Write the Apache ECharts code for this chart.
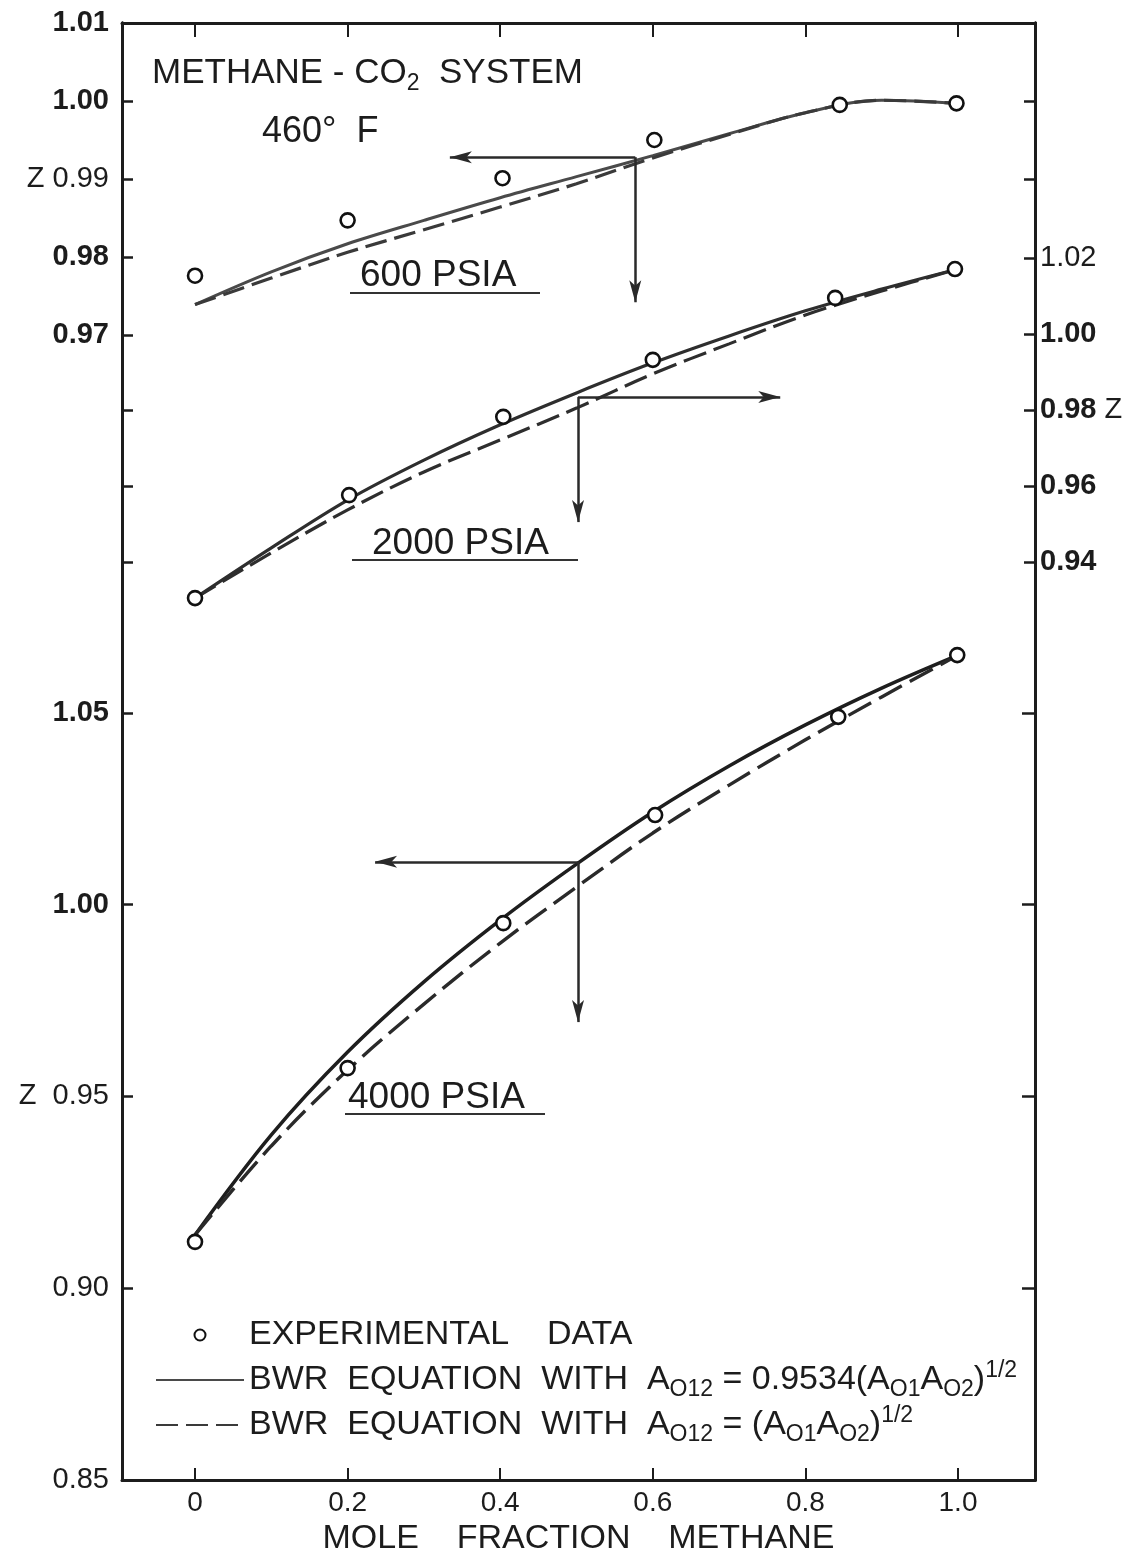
<!DOCTYPE html>
<html>
<head>
<meta charset="utf-8">
<title>Methane - CO2 System, 460 F</title>
<script src="https://cdn.jsdelivr.net/npm/echarts@6/dist/echarts.min.js"></script>
<style>
  html, body { margin: 0; padding: 0; background: #fff; }
  #chart { width: 1125px; height: 1557px; }
</style>
</head>
<body>
<div id="chart"></div>
<script>
// Mole fraction of methane used for the computed BWR curves
const curveX = [0, 0.1, 0.2, 0.3, 0.4, 0.5, 0.6, 0.7, 0.8, 0.9, 1.0];

// 600 psia (upper left Z scale)
const z600Fitted = [0.9739, 0.9781, 0.9817, 0.9847, 0.9876, 0.9903, 0.9930, 0.9958, 0.9985, 1.0001, 0.9997];
const z600Geo    = [0.9739, 0.9773, 0.9806, 0.9835, 0.9864, 0.9894, 0.9927, 0.9957, 0.9985, 1.0001, 0.9997];
const x600Exp    = [0, 0.2, 0.403, 0.602, 0.845, 0.998];
const z600Exp    = [0.9776, 0.9847, 0.9901, 0.9950, 0.9995, 0.9997];

// 2000 psia (right Z scale)
const z2000Fitted = [0.9305, 0.9437, 0.9563, 0.9668, 0.9761, 0.9845, 0.9924, 0.9995, 1.0061, 1.0118, 1.0171];
const z2000Geo    = [0.9305, 0.9424, 0.9537, 0.9637, 0.9721, 0.9805, 0.9895, 0.9974, 1.0050, 1.0113, 1.0171];
const x2000Exp    = [0, 0.202, 0.404, 0.600, 0.839, 0.996];
const z2000Exp    = [0.9305, 0.9576, 0.9782, 0.9932, 1.0095, 1.0171];

// 4000 psia (lower left Z scale)
const z4000Fitted = [0.9139, 0.9400, 0.9616, 0.9799, 0.9960, 1.0106, 1.0242, 1.0362, 1.0469, 1.0565, 1.0651];
const z4000Geo    = [0.9139, 0.9371, 0.9569, 0.9741, 0.9900, 1.0046, 1.0187, 1.0312, 1.0430, 1.0542, 1.0651];
const x4000Exp    = [0, 0.200, 0.404, 0.603, 0.843, 0.999];
const z4000Exp    = [0.9121, 0.9574, 0.9952, 1.0234, 1.0490, 1.0651];

// Tick / label positions
const xTicks         = [0, 0.2, 0.4, 0.6, 0.8, 1.0];
const ticks600       = [1.01, 1.00, 0.99, 0.98, 0.97];
const ticks600Right  = [1.00, 0.99];
const ticks2000      = [1.02, 1.00, 0.98, 0.96, 0.94];
const ticks2000Left  = [0.98, 0.96, 0.94];
const ticks4000      = [1.05, 1.00, 0.95, 0.90, 0.85];
const ticks4000Right = [1.05, 1.00, 0.95, 0.90];

// Reading guides: [corner, end of horizontal arrow, end of vertical arrow]
const guide600  = [[0.577, 0.9928], [0.334, 0.9928], [0.577, 0.9742]];
const guide2000 = [[0.502, 0.9834], [0.767, 0.9834], [0.502, 0.9505]];
const guide4000 = [[0.502, 1.0112], [0.236, 1.0112], [0.502, 0.9694]];

const NAME_EXP = 'EXPERIMENTAL DATA';
const NAME_FIT = 'BWR 0.9534';
const NAME_GEO = 'BWR GEO';

const FONT = '"Liberation Sans", "DejaVu Sans", sans-serif';
const INK = '#1c1c1c';

const zip = (xs, ys) => xs.map((x, i) => [x, ys[i]]);

function guideLines(g) {
  return {
    silent: true,
    symbol: ['none', 'arrow'],
    symbolSize: [9, 22],
    label: { show: false },
    lineStyle: { color: '#2a2a2a', width: 2.5, type: 'solid' },
    itemStyle: { color: '#2a2a2a' },
    emphasis: { disabled: true },
    animation: false,
    data: [
      [{ coord: g[0] }, { coord: g[1] }],
      [{ coord: g[0] }, { coord: g[2] }]
    ]
  };
}

const LABEL_SIZE = 29;

function yLabel(side, prefix, suffix, lightSet) {
  return {
    show: true,
    margin: side === 'left' ? 13 : 5,
    fontFamily: FONT,
    fontSize: LABEL_SIZE,
    color: INK,
    formatter: function (v) {
      const t = v.toFixed(2);
      const style = lightSet.has(t) ? 'n' : 'b';
      let s = '{' + style + '|' + t + '}';
      if (prefix[t]) s = '{n|' + prefix[t] + '}' + s;
      if (suffix[t]) s = s + '{n|' + suffix[t] + '}';
      return s;
    },
    rich: {
      b: { fontFamily: FONT, fontSize: LABEL_SIZE, fontWeight: 'bold', color: INK },
      n: { fontFamily: FONT, fontSize: LABEL_SIZE, fontWeight: 'normal', color: INK }
    }
  };
}

function yAxis(opts) {
  return Object.assign({
    type: 'value',
    splitLine: { show: false },
    axisLine: { show: true, onZero: false, lineStyle: { color: INK, width: 3 } },
    axisLabel: { show: false }
  }, opts);
}

function ticks(values, len) {
  return { show: true, inside: true, length: len || 11, customValues: values, lineStyle: { color: INK, width: 2.5 } };
}

const circleStyle = { color: '#ffffff', borderColor: '#111111', borderWidth: 2.6, opacity: 1 };

const chart = echarts.init(document.getElementById('chart'), null, { renderer: 'canvas' });

const option = {
  backgroundColor: '#ffffff',
  animation: false,
  grid: { left: 122, right: 90, top: 23, bottom: 77, containLabel: false, outerBoundsMode: 'none' },
  xAxis: [
    {
      type: 'value', position: 'bottom', min: -0.0957, max: 1.1009,
      splitLine: { show: false },
      axisLine: { show: true, onZero: false, lineStyle: { color: INK, width: 3 } },
      axisTick: { show: true, inside: true, length: 12, customValues: xTicks, lineStyle: { color: INK, width: 2 } },
      axisLabel: {
        show: true, customValues: xTicks, margin: 9,
        fontFamily: FONT, fontSize: 28, color: INK,
        formatter: v => (v === 0 ? '0' : v.toFixed(1))
      },
      name: 'MOLE    FRACTION    METHANE',
      nameLocation: 'middle',
      nameGap: 38,
      nameTextStyle: { fontFamily: FONT, fontSize: 34, color: INK }
    },
    {
      type: 'value', position: 'top', min: -0.0957, max: 1.1009,
      splitLine: { show: false },
      axisLine: { show: true, onZero: false, lineStyle: { color: INK, width: 3 } },
      axisTick: { show: true, inside: true, length: 14, customValues: xTicks, lineStyle: { color: INK, width: 2 } },
      axisLabel: { show: false }
    }
  ],
  yAxis: [
    // 0: 600 psia, left
    yAxis({
      position: 'left', min: 0.82321, max: 1.01,
      axisTick: ticks(ticks600),
      axisLabel: Object.assign(yLabel('left', { '0.99': 'Z ' }, {}, new Set(['0.99'])), { customValues: ticks600 })
    }),
    // 1: 600 psia, right-hand ticks
    yAxis({ position: 'right', min: 0.82321, max: 1.01, axisTick: ticks(ticks600Right) }),
    // 2: 2000 psia, right
    yAxis({
      position: 'right', min: 0.69842, max: 1.08184,
      axisTick: ticks(ticks2000),
      axisLabel: Object.assign(yLabel('right', {}, { '0.98': ' Z' }, new Set(['1.02'])), { customValues: ticks2000 })
    }),
    // 3: 2000 psia, left-hand ticks
    yAxis({ position: 'left', min: 0.69842, max: 1.08184, axisTick: ticks(ticks2000Left) }),
    // 4: 4000 psia, left
    yAxis({
      position: 'left', min: 0.85, max: 1.22992,
      axisTick: ticks(ticks4000),
      axisLabel: Object.assign(yLabel('left', { '0.95': 'Z  ' }, {}, new Set(['0.95', '0.90', '0.85'])), { customValues: ticks4000 })
    }),
    // 5: 4000 psia, right-hand ticks
    yAxis({ position: 'right', min: 0.85, max: 1.22992, axisTick: ticks(ticks4000Right, 13) })
  ],
  legend: {
    orient: 'vertical',
    left: 150,
    top: 1309,
    itemWidth: 88,
    itemHeight: 11,
    itemGap: 3,
    selectedMode: false,
    itemStyle: { opacity: 0 },
    data: [
      { name: NAME_EXP, itemStyle: { opacity: 1, color: '#ffffff', borderColor: '#111111', borderWidth: 2 } },
      { name: NAME_FIT },
      { name: NAME_GEO }
    ],
    formatter: function (name) {
      if (name === NAME_EXP) return '{t|EXPERIMENTAL    DATA}';
      if (name === NAME_FIT) return '{t|BWR  EQUATION  WITH  A}{s|O12}{t| = 0.9534(A}{s|O1}{t|A}{s|O2}{t|)}{p|1/2}';
      return '{t|BWR  EQUATION  WITH  A}{s|O12}{t| = (A}{s|O1}{t|A}{s|O2}{t|)}{p|1/2}';
    },
    textStyle: {
      fontFamily: FONT, fontSize: 34, color: INK, lineHeight: 42,
      rich: {
        t: { fontFamily: FONT, fontSize: 34, color: INK, lineHeight: 42 },
        s: { fontFamily: FONT, fontSize: 23, color: INK, lineHeight: 17, verticalAlign: 'bottom' },
        p: { fontFamily: FONT, fontSize: 23, color: INK, lineHeight: 19, verticalAlign: 'top' }
      }
    }
  },
  graphic: [
    {
      type: 'text', left: 152, top: 56, silent: true,
      style: {
        text: '{t|METHANE - CO}{s|2}{t|  SYSTEM}',
        rich: {
          t: { fontFamily: FONT, fontSize: 35, fill: INK, lineHeight: 44 },
          s: { fontFamily: FONT, fontSize: 23, fill: INK, lineHeight: 17, verticalAlign: 'bottom' }
        }
      }
    },
    { type: 'text', left: 262, top: 114, silent: true,
      style: { text: '460°  F', fontFamily: FONT, fontSize: 36, fill: INK } },

    { type: 'text', left: 360, top: 257, silent: true,
      style: { text: '600 PSIA', fontFamily: FONT, fontSize: 37, fill: INK } },
    { type: 'line', silent: true, shape: { x1: 350, y1: 293, x2: 540, y2: 293 },
      style: { stroke: '#333', lineWidth: 2 } },

    { type: 'text', left: 372, top: 525, silent: true,
      style: { text: '2000 PSIA', fontFamily: FONT, fontSize: 37, fill: INK } },
    { type: 'line', silent: true, shape: { x1: 352, y1: 560, x2: 578, y2: 560 },
      style: { stroke: '#333', lineWidth: 2 } },

    { type: 'text', left: 348, top: 1079, silent: true,
      style: { text: '4000 PSIA', fontFamily: FONT, fontSize: 37, fill: INK } },
    { type: 'line', silent: true, shape: { x1: 345, y1: 1114, x2: 545, y2: 1114 },
      style: { stroke: '#333', lineWidth: 2 } }
  ],
  series: [
    // ---- 600 psia ----
    {
      name: NAME_FIT, type: 'line', yAxisIndex: 0, smooth: 0.35, symbol: 'none', z: 3,
      data: zip(curveX, z600Fitted),
      itemStyle: { color: '#3a3a3a' },
      lineStyle: { color: '#4a4a4a', width: 3, type: 'solid' },
      markLine: guideLines(guide600)
    },
    {
      name: NAME_GEO, type: 'line', yAxisIndex: 0, smooth: 0.35, symbol: 'none', z: 3,
      data: zip(curveX, z600Geo),
      itemStyle: { color: '#3a3a3a' },
      lineStyle: { color: '#3a3a3a', width: 3.2, type: [22, 8] }
    },
    {
      name: NAME_EXP, type: 'scatter', yAxisIndex: 0, symbol: 'circle', symbolSize: 14, z: 5,
      data: zip(x600Exp, z600Exp),
      itemStyle: circleStyle
    },
    // ---- 2000 psia ----
    {
      name: NAME_FIT, type: 'line', yAxisIndex: 2, smooth: 0.35, symbol: 'none', z: 3,
      data: zip(curveX, z2000Fitted),
      itemStyle: { color: '#2e2e2e' },
      lineStyle: { color: '#2e2e2e', width: 3.2, type: 'solid' },
      markLine: guideLines(guide2000)
    },
    {
      name: NAME_GEO, type: 'line', yAxisIndex: 2, smooth: 0.35, symbol: 'none', z: 3,
      data: zip(curveX, z2000Geo),
      itemStyle: { color: '#2e2e2e' },
      lineStyle: { color: '#2e2e2e', width: 3.2, type: [24, 8] }
    },
    {
      name: NAME_EXP, type: 'scatter', yAxisIndex: 2, symbol: 'circle', symbolSize: 14, z: 5,
      data: zip(x2000Exp, z2000Exp),
      itemStyle: circleStyle
    },
    // ---- 4000 psia ----
    {
      name: NAME_FIT, type: 'line', yAxisIndex: 4, smooth: 0.35, symbol: 'none', z: 3,
      data: zip(curveX, z4000Fitted),
      itemStyle: { color: '#1e1e1e' },
      lineStyle: { color: '#1e1e1e', width: 3.5, type: 'solid' },
      markLine: guideLines(guide4000)
    },
    {
      name: NAME_GEO, type: 'line', yAxisIndex: 4, smooth: 0.35, symbol: 'none', z: 3,
      data: zip(curveX, z4000Geo),
      itemStyle: { color: '#2a2a2a' },
      lineStyle: { color: '#2a2a2a', width: 3.4, type: [26, 9] }
    },
    {
      name: NAME_EXP, type: 'scatter', yAxisIndex: 4, symbol: 'circle', symbolSize: 14, z: 5,
      data: zip(x4000Exp, z4000Exp),
      itemStyle: circleStyle
    }
  ]
};

chart.setOption(option);
</script>
</body>
</html>
